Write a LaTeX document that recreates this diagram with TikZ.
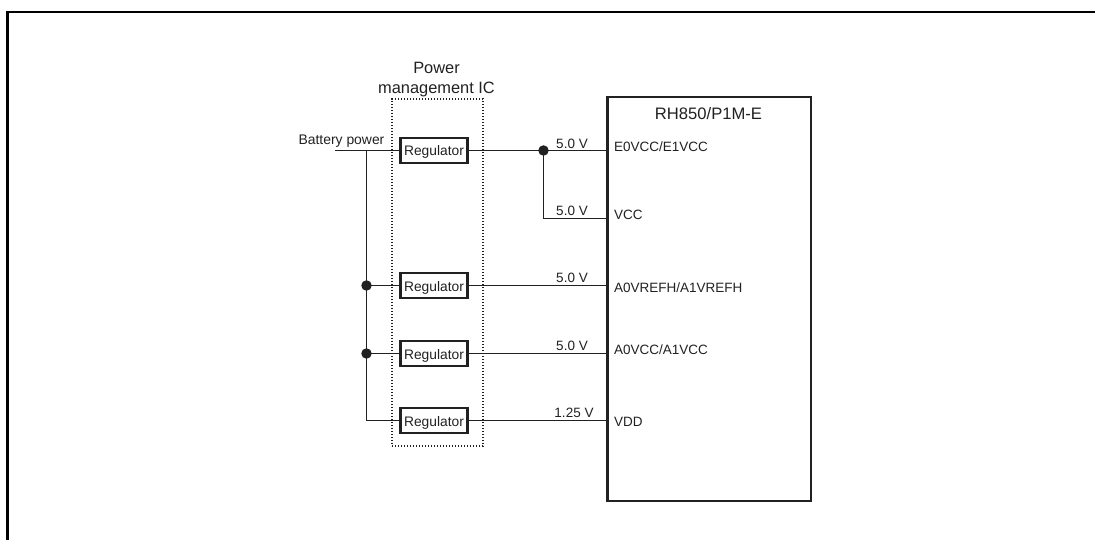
\documentclass[tikz,border=0pt]{standalone}
\usepackage{fontspec}
\setmainfont{Liberation Sans}
\definecolor{ink}{gray}{0.13}
\newcommand{\fs}[1]{\fontsize{#1pt}{#1pt}\selectfont}
\tikzset{
  wire/.style={draw=ink,line width=1.4pt},
  reg/.style={draw=ink,line width=2.6pt,minimum width=67.5pt,minimum height=25pt,inner sep=0pt,text=ink,font=\fs{13.8},text height=11pt,text depth=0pt},
  lbl/.style={inner sep=0pt,text=ink,font=\fs{13.5}},
  dotn/.style={circle,fill=ink,inner sep=0pt,outer sep=0pt,minimum size=10.5pt},
}
\begin{document}
\begin{tikzpicture}[x=1pt,y=-1pt]
\useasboundingbox (0,0) rectangle (1095,540);
% outer frame
\coordinate (fa) at (7.5,540);
\coordinate (fb) at (7.5,12);
\coordinate (fc) at (1095,12);
\draw[black,line width=2.6pt,line cap=butt] (fa) -- (fb) -- (fc);
% power management IC
\node[draw=ink,dash pattern=on 1.3pt off 1.7pt,line width=1.3pt,outer sep=0pt,minimum width=91pt,minimum height=347pt,inner sep=0pt,anchor=north west] (pmic) at (392,99) {};
\node[lbl,font=\fs{16.4},align=center,anchor=south] (pmlabel) at (436.5,97) {Power\\[3.5pt]management IC};
% chip
\node[draw=ink,line width=2.6pt,outer sep=0pt,minimum width=203.5pt,minimum height=404pt,inner sep=0pt,anchor=north west] (chip) at (607.5,97) {};
\node[lbl,font=\fs{16.6}] (chipname) at (708.5,114) {RH850/P1M-E};
% regulators
\node[reg] (r1) at (434,150.5) {Regulator};
\node[reg] (r2) at (434,285.5) {Regulator};
\node[reg] (r3) at (434,353.5) {Regulator};
\node[reg] (r4) at (434,420.5) {Regulator};
% pins
\coordinate (p1) at (chip.west |- r1);
\coordinate (p2) at (607.5,218.5);
\coordinate (p3) at (chip.west |- r2);
\coordinate (p4) at (chip.west |- r3);
\coordinate (p5) at (chip.west |- r4);
\node[lbl,anchor=west] (n1) at (614,147) {E0VCC/E1VCC};
\node[lbl,anchor=west] (n2) at (614,215) {VCC};
\node[lbl,anchor=west] (n3) at (614,288) {A0VREFH/A1VREFH};
\node[lbl,anchor=west] (n4) at (614,350) {A0VCC/A1VCC};
\node[lbl,anchor=west] (n5) at (614,422) {VDD};
% battery
\node[lbl,font=\fs{13.9},anchor=south] (bat) at (341.5,148) {Battery power};
\coordinate (bs) at (335,150.5);
\coordinate (bj) at (366.5,150.5);
\node[dotn] (d2) at (366.5,285.5) {};
\node[dotn] (d3) at (366.5,353.5) {};
\coordinate (bb) at (366.5,420.5);
\draw[wire] (bs) -- (r1.west);
\draw[wire] (bj) -- (d2.center) -- (d3.center) -- (bb) -- (r4.west);
\draw[wire] (d2.center) -- (r2.west);
\draw[wire] (d3.center) -- (r3.west);
% outputs
\node[dotn] (d1) at (543.5,150.5) {};
\coordinate (dv) at (543.5,218.5);
\draw[wire] (r1.east) -- (p1);
\draw[wire] (d1.center) -- (dv) -- (p2);
\draw[wire] (r2.east) -- (p3);
\draw[wire] (r3.east) -- (p4);
\draw[wire] (r4.east) -- (p5);
% voltage labels
\node[lbl,anchor=base] (v1) at (572,148.5) {5.0 V};
\node[lbl,anchor=base] (v2) at (572,216) {5.0 V};
\node[lbl,anchor=base] (v3) at (572,282) {5.0 V};
\node[lbl,anchor=base] (v4) at (572,350) {5.0 V};
\node[lbl,anchor=base] (v5) at (574,417) {1.25 V};
\end{tikzpicture}
\end{document}
